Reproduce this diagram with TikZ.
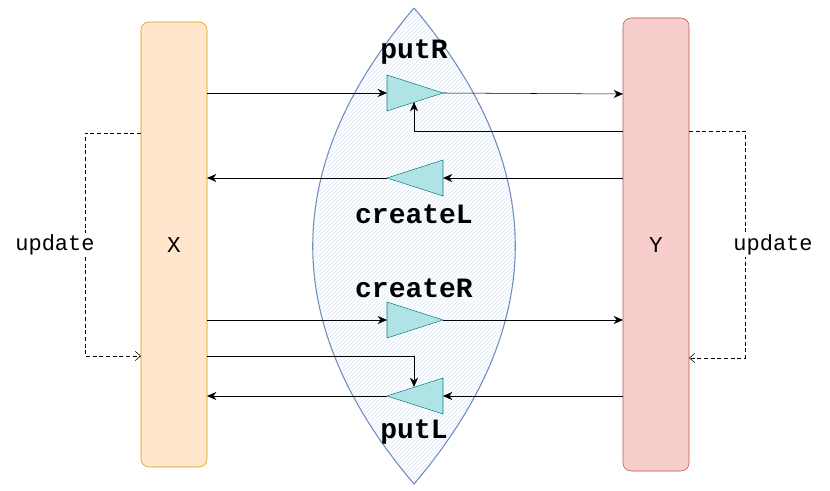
\documentclass[tikz,border=0pt]{standalone}
\usepackage{fontspec}
\setmonofont{Liberation Mono}
\usetikzlibrary{patterns,arrows.meta}
\definecolor{xf}{HTML}{FFE6CC}\definecolor{xs}{HTML}{D79B00}
\definecolor{yf}{HTML}{F8CECC}\definecolor{ys}{HTML}{B85450}
\definecolor{lf}{HTML}{DAE8FC}\definecolor{ls}{HTML}{6C8EBF}
\definecolor{tf}{HTML}{B0E3E6}\definecolor{ts}{HTML}{0E8088}
\begin{document}
\begin{tikzpicture}[x=0.75pt,y=-0.75pt,
 tri/.style={draw=ts,fill=tf},
 lab/.style={font=\ttfamily\bfseries\fontsize{21}{23}\selectfont},
 arr/.style={-{Stealth[length=7pt,width=6pt]}},
 dsh/.style={densely dashed,-{Straight Barb[length=4pt,width=7pt]}},
 txt/.style={font=\ttfamily\fontsize{16.5}{18}\selectfont}]
\useasboundingbox (0,0) rectangle (830,491);
\path[pattern=north east lines,pattern color=ls!25] (414,8) .. controls (279,167) and (279,325) .. (414,484) .. controls (549,325) and (549,167) .. (414,8);
\draw[ls,thick] (414,8) .. controls (279,167) and (279,325) .. (414,484) .. controls (549,325) and (549,167) .. (414,8);
\node[draw=xs,fill=xf,rounded corners=6pt,minimum width=66*0.75pt,minimum height=445*0.75pt] (X) at (174,244.5) {};
\node[draw=ys,fill=yf,rounded corners=6pt,minimum width=66*0.75pt,minimum height=453*0.75pt] (Y) at (656,244.5) {};
\node[font=\ttfamily\fontsize{17}{18}\selectfont] (xl) at (174,245) {X};
\node[font=\ttfamily\fontsize{17}{18}\selectfont] (yl) at (656,245) {Y};
% triangles
\coordinate (prw) at (387,93);\coordinate (pre) at (443,93);
\draw[tri] (387,75) -- (443,93) -- (387,111) -- cycle;
\coordinate (clw) at (387,178);\coordinate (cle) at (443,178);
\draw[tri] (443,160) -- (387,178) -- (443,196) -- cycle;
\coordinate (crw) at (387,320);\coordinate (cre) at (443,320);
\draw[tri] (387,302) -- (443,320) -- (387,338) -- cycle;
\coordinate (plw) at (387,396);\coordinate (ple) at (443,396);
\draw[tri] (443,378) -- (387,396) -- (443,414) -- cycle;
\node[lab] (prl) at (414,52) {putR};
\node[lab] (cll) at (414,214) {createL};
\node[lab] (crl) at (414,288) {createR};
\node[lab] (pll) at (414,432) {putL};
\coordinate (a1) at (207,93);\coordinate (a2) at (623,94);
\draw[arr] (a1) -- (prw);
\draw[arr] (pre) -- (a2);
\coordinate (b1) at (623,131);\coordinate (b2) at (414,131);\coordinate (b3) at (414,102);
\draw[arr] (b1) -- (b2) -- (b3);
\coordinate (c1) at (623,178);\coordinate (c2) at (207,178);
\draw[arr] (c1) -- (cle);
\draw[arr] (clw) -- (c2);
\coordinate (d1) at (207,320);\coordinate (d2) at (623,320);
\draw[arr] (d1) -- (crw);
\draw[arr] (cre) -- (d2);
\coordinate (e1) at (207,356);\coordinate (e2) at (414,356);\coordinate (e3) at (414,387);
\draw[arr] (e1) -- (e2) -- (e3);
\coordinate (f1) at (623,396);\coordinate (f2) at (207,396);
\draw[arr] (f1) -- (ple);
\draw[arr] (plw) -- (f2);
\coordinate (g1) at (141,133);\coordinate (g2) at (85,133);\coordinate (g3) at (85,356);\coordinate (g4) at (141,356);
\draw[dsh] (g1) -- (g2) -- (g3) -- (g4);
\coordinate (h1) at (689,131);\coordinate (h2) at (745,131);\coordinate (h3) at (745,358);\coordinate (h4) at (689,358);
\draw[dsh] (h1) -- (h2) -- (h3) -- (h4);
\node[txt,fill=white,inner sep=1pt] (u1) at (55,245) {update};
\node[txt,fill=white,inner sep=1pt] (u2) at (773,245) {update};
\end{tikzpicture}
\end{document}
